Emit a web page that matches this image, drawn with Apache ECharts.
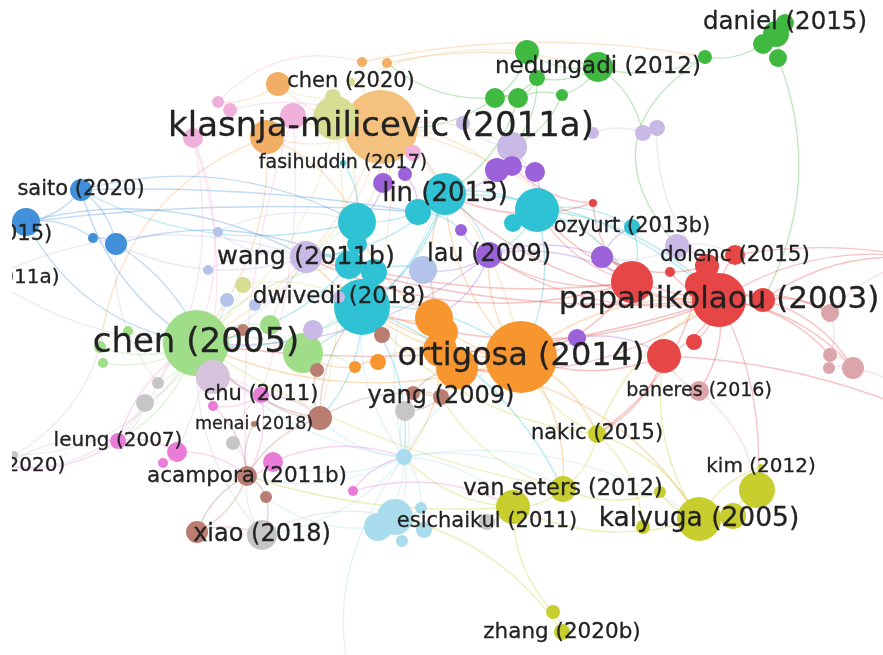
<!DOCTYPE html>
<html>
<head>
<meta charset="utf-8">
<title>Co-citation network</title>
<script src="https://cdn.jsdelivr.net/npm/echarts/dist/echarts.min.js"></script>
<style>
  html, body { margin: 0; padding: 0; background: #ffffff; overflow: hidden; }
  /* the map area begins after a narrow white margin on the left */
  #chart { width: 871px; height: 655px; margin-left: 12px; }
</style>
</head>
<body>
<div id="chart"></div>
<script>
// Network map: every node is [id, label, x, y, weight] in map units.
const red = [
  ['r1', 'papanikolaou (2003)', 719, 300, 27],
  ['r2', '', 632, 282, 21],
  ['r3', '', 707, 266, 12],
  ['r4', 'dolenc (2015)', 735, 255, 10],
  ['r5', '', 670, 272, 5],
  ['r6', '', 698, 285, 13],
  ['r7', '', 763, 300, 12],
  ['r8', '', 694, 342, 8],
  ['r9', '', 664, 356, 17],
  ['r10', '', 593, 203, 4]
];
const rosy = [
  ['q1', '', 830, 313, 9],
  ['q2', '', 830, 355, 7],
  ['q3', '', 829, 368, 6],
  ['q4', '', 853, 368, 11],
  ['q5', 'baneres (2016)', 699, 391, 10],
  ['q6', '', 930, 260, 4],
  ['q7', '', 935, 420, 4]
];
const green = [
  ['g1', 'daniel (2015)', 785, 23, 9],
  ['g2', '', 776, 34, 13],
  ['g3', '', 763, 44, 10],
  ['g4', '', 778, 58, 9],
  ['g5', '', 705, 57, 7],
  ['g6', 'nedungadi (2012)', 598, 67, 15],
  ['g7', '', 527, 52, 12],
  ['g8', '', 537, 78, 8],
  ['g9', '', 495, 98, 10],
  ['g10', '', 518, 98, 10],
  ['g11', '', 562, 95, 6]
];
const blue = [
  ['b1', 'saito (2020)', 81, 190, 11],
  ['b2', '', 26, 222, 14],
  ['b3', '', 93, 238, 5],
  ['b4', '', 116, 244, 11],
  ['b5', 'hwang (2015)', -21, 235, 4]
];
const steel = [
  ['s1', '', 218, 232, 5],
  ['s2', '', 208, 270, 5],
  ['s3', 'wang (2011a)', -10, 278, 4],
  ['s4', '', 227, 300, 7],
  ['s5', '', 255, 305, 6],
  ['s6', '', 423, 270, 14]
];
const cyan = [
  ['c1', 'lin (2013)', 445, 194, 21],
  ['c2', '', 357, 222, 19],
  ['c3', '', 418, 212, 13],
  ['c4', '', 537, 210, 22],
  ['c5', '', 513, 223, 9],
  ['c6', '', 349, 265, 14],
  ['c7', '', 374, 272, 13],
  ['c8', '', 362, 307, 28],
  ['c9', '', 357, 244, 10],
  ['c10', 'ozyurt (2013b)', 632, 227, 8],
  ['c11', 'fasihuddin (2017)', 343, 163, 3]
];
const purple = [
  ['p1', 'lau (2009)', 489, 255, 13],
  ['p2', '', 383, 183, 10],
  ['p3', '', 405, 174, 7],
  ['p4', '', 497, 170, 12],
  ['p5', '', 512, 166, 10],
  ['p6', '', 535, 172, 10],
  ['p7', '', 461, 230, 6],
  ['p8', '', 602, 257, 11],
  ['p9', '', 577, 338, 9]
];
const lavender = [
  ['v1', 'wang (2011b)', 306, 257, 16],
  ['v2', '', 512, 147, 15],
  ['v3', '', 463, 123, 7],
  ['v4', '', 593, 133, 6],
  ['v5', '', 643, 133, 8],
  ['v6', '', 657, 128, 8],
  ['v7', '', 677, 246, 12],
  ['v9', '', 313, 330, 10],
  ['v11', 'dwivedi (2018)', 339, 297, 6]
];
const mauve = [
  ['u1', '', 213, 377, 17]
];
const orange = [
  ['o1', 'ortigosa (2014)', 521, 357, 36],
  ['o2', '', 434, 318, 19],
  ['o3', '', 443, 332, 15],
  ['o4', '', 440, 350, 17],
  ['o5', '', 457, 368, 21],
  ['o6', '', 378, 362, 8],
  ['o7', '', 355, 367, 6]
];
const apricot = [
  ['a1', '', 278, 84, 12],
  ['a2', '', 267, 137, 17],
  ['a3', '', 362, 62, 5],
  ['a4', '', 387, 63, 5]
];
const peach = [
  ['k1', 'klasnja-milicevic (2011a)', 381, 127, 37]
];
const lime = [
  ['l1', 'chen (2020)', 351, 82, 4],
  ['l2', '', 333, 97, 8],
  ['l3', '', 335, 118, 22],
  ['l4', '', 243, 285, 8]
];
const lightGreen = [
  ['e1', 'chen (2005)', 196, 343, 33],
  ['e2', '', 303, 353, 20],
  ['e3', '', 270, 325, 10],
  ['e4', '', 100, 347, 6],
  ['e5', '', 128, 331, 5],
  ['e6', '', 103, 363, 5]
];
const brown = [
  ['w1', 'acampora (2011b)', 247, 476, 10],
  ['w2', 'menai (2018)', 254, 424, 3],
  ['w3', '', 320, 418, 12],
  ['w4', '', 317, 370, 7],
  ['w5', '', 243, 330, 6],
  ['w6', '', 382, 335, 8],
  ['w7', '', 266, 497, 6],
  ['w8', '', 197, 532, 11],
  ['w9', 'yang (2009)', 441, 397, 8],
  ['w10', '', 413, 393, 7]
];
const pink = [
  ['n1', 'chu (2011)', 261, 395, 8],
  ['n2', 'leung (2007)', 118, 441, 8],
  ['n3', '', 177, 452, 10],
  ['n4', '', 163, 463, 5],
  ['n5', '', 213, 406, 5],
  ['n6', '', 273, 462, 10],
  ['n7', '', 353, 491, 5]
];
const rose = [
  ['m1', '', 218, 102, 6],
  ['m2', '', 230, 110, 7],
  ['m3', '', 293, 116, 13],
  ['m4', '', 193, 138, 10],
  ['m5', '', 413, 153, 8]
];
const gray = [
  ['h1', 'xiao (2018)', 262, 535, 15],
  ['h2', '', 158, 383, 6],
  ['h3', '', 145, 403, 9],
  ['h4', '', 233, 443, 7],
  ['h5', '', 405, 411, 10],
  ['h6', 'esichaikul (2011)', 487, 522, 8],
  ['h7', 'zhao (2020)', 5, 466, 4],
  ['h8', '', 14, 455, 4]
];
const ice = [
  ['t1', '', 404, 457, 8],
  ['t2', '', 395, 517, 18],
  ['t3', '', 378, 527, 14],
  ['t4', '', 421, 508, 6],
  ['t5', '', 424, 530, 8],
  ['t6', '', 402, 541, 6],
  ['t7', '', 420, 800, 4]
];
const yellow = [
  ['y1', 'kalyuga (2005)', 699, 519, 22],
  ['y2', '', 733, 516, 13],
  ['y3', '', 757, 490, 18],
  ['y4', 'kim (2012)', 761, 467, 3],
  ['y5', '', 643, 527, 7],
  ['y6', '', 660, 492, 6],
  ['y7', 'van seters (2012)', 563, 489, 13],
  ['y8', '', 513, 507, 17],
  ['y9', 'nakic (2015)', 597, 434, 9],
  ['y10', '', 553, 612, 7],
  ['y11', 'zhang (2020b)', 562, 632, 8]
];

// Citation links: [source, target, optional bend]
const links = [
  ['g2','g1'],['g2','g3'],['g2','g4'],['g3','g5'],['g5','g6'],['g6','g7'],['g6','g8'],['g7','g8'],
  ['g8','g9'],['g8','g10'],['g10','g11'],['g9','g10'],['g6','g11'],['g7','g9'],
  ['g4','r7',0.23],['g5','v7',-0.58],['g9','k1'],['g10','c1'],['g11','v2'],['g6','v5'],['g8','v2'],['g9','a4'],
  ['a3','g5',0.1],['l1','g7',0.15],['m1','a3',0.3],['a4','g6',0.12],

  ['k1','a1'],['k1','a2'],['k1','l2'],['k1','c1'],['k1','c2'],['k1','p4'],['k1','v1'],['k1','o1'],
  ['k1','e1'],['k1','r2'],['k1','a3'],['k1','a4'],['k1','m3'],['k1','v2'],['k1','p2'],['k1','c8'],
  ['l3','e1'],['l3','c6'],['l3','w3',0.1],['l2','a1'],['l4','c8'],['l4','e1'],

  ['o1','o5'],['o1','o4'],['o1','o2'],['o1','c1'],['o1','p1'],['o1','r1'],['o1','y9'],['o1','e1'],
  ['o1','c8'],['o2','c8'],['o5','w9'],['o6','o4'],['o7','o6'],['o7','e2'],['o2','c2'],['o1','y7'],
  ['o4','t1'],['o3','c1'],['o5','y1',0.25],['o1','v1'],
  ['a2','e1'],['a1','m1'],['a2','c2'],['a2','e4',-0.3],

  ['c1','c3'],['c1','c2'],['c1','c4'],['c1','p1'],['c1','c8'],['c1','v1'],['c2','c6'],['c2','c9'],
  ['c4','c5'],['c4','c10'],['c4','r2'],['c8','c6'],['c8','c7'],['c8','e1'],['c8','o1'],['c8','t1'],
  ['c8','w3'],['c3','p7'],['c4','p1'],['c10','r2'],['c6','e1'],['c2','b1'],['c7','s6'],['c1','r1'],
  ['c8','y7'],['c4','r1'],['c9','v1'],['c1','e2'],['c4','o1'],['c11','c2'],

  ['p1','p7'],['p1','r2'],['p1','p8'],['p4','p5'],['p5','p6'],['p4','c1'],['p8','r2'],['p8','c10'],
  ['p9','r9'],['p9','o1'],['p2','c2'],['p3','c3'],['p6','c4'],['p1','s6'],['p1','o2'],['p1','e1'],

  ['v1','e1'],['v1','c6'],['v1','s1'],['v1','b4'],['v2','p4'],['v2','v3'],['v4','v5'],['v5','v6'],
  ['v7','r4'],['v7','p8'],['v9','e2'],['v11','c8'],['v2','c4'],['v6','r3',-0.2],
  ['u1','e1'],['u1','n1'],

  ['r1','r2'],['r1','r3'],['r1','r4'],['r1','r5'],['r1','r6'],['r1','r7'],['r1','r8'],['r1','r9'],
  ['r1','q1'],['r1','q2'],['r1','q4'],['r1','q5'],['r1','p1'],['r1','c1'],['r1','v1',0.1],['r1','e1',0.12],
  ['r1','c4'],['r2','o1'],['r2','p1'],['r2','c4'],['r2','r10'],['r10','p5'],['r10','c1'],['r6','y9'],
  ['r9','y9'],['r1','y3',0.15],['r4','v7'],['r7','q1'],['r1','o5'],['r2','v1'],['r3','p8'],['r9','o1'],
  ['r1','c8'],['r7','q4'],['r1','q6'],['r7','q6'],['r4','q6',0.1],['q4','q7'],['r9','q7',0.1],['r2','c6',0.1],
  ['q5','y3'],['q5','r9'],['q2','q4'],['q3','q4'],['q1','q2'],['q1','q6'],

  ['y9','y7'],['y9','y1'],['y9','y5'],['y9','r1'],['y9','o1'],['y1','y2'],['y2','y3'],['y1','y4'],
  ['y3','y4'],['y1','y6'],['y7','y8'],['y8','y10',-0.2],['y10','y11'],['y8','t1'],['y8','h6'],['y7','w9'],
  ['y1','y8'],['y6','y7'],['y8','w1',0.1],['y7','e1',0.1],['y1','r9'],['y9','c8'],['y11','t2',-0.2],

  ['t1','t2'],['t1','t3'],['t1','t4'],['t1','c8'],['t1','o1'],['t1','w1'],['t1','e1'],['t1','y8'],
  ['t1','w3'],['t1','h5'],['t1','t7',-0.4],['t2','t6'],['t2','t5'],['t1','y1'],['t1','n6'],['t1','c1'],
  ['t1','y7'],['t1','h1'],['t3','w7'],

  ['e1','e2'],['e1','e3'],['e1','e4'],['e1','e5'],['e1','e6'],['e1','c6'],['e2','o7'],['e2','w4'],
  ['e1','n2'],['e1','h3'],['e1','h2'],['e3','c2'],['e2','c8'],

  ['b1','b2'],['b1','b4'],['b1','c2'],['b2','c3',0.05],['b2','v1'],['b2','b3'],['b3','b4'],['b4','c6'],
  ['b5','b2'],['b4','u1'],['b1','e1',-0.2],['b1','c3',0.05],['b2','e1',-0.25],
  ['s3','e1',-0.15],['s3','v1'],['s1','c2'],['s2','v1'],['s4','e1'],['s5','c8'],['s6','o2'],

  ['n1','n5'],['n1','w3'],['n1','e1'],['n2','n3'],['n3','n4'],['n3','w1'],['n2','h7',0.2],['n6','w1'],
  ['n6','t1'],['n7','y8'],['n7','t1'],['n1','w1'],['n2','e1'],['n5','w1'],
  ['m4','n2',0.25],['m3','n1',0.1],['m4','e1'],['m2','k1'],['m4','n3',0.2],['m3','w1',-0.1],['m5','c1'],

  ['w1','w2'],['w1','w7'],['w1','w8'],['w1','w3'],['w3','w4'],['w3','w9'],['w3','c8'],['w8','h1'],
  ['w9','h5'],['w4','e2'],['w5','e1'],['w6','c8'],['w3','n1'],['w10','w9'],['w10','o5'],['w10','h5'],
  ['w7','h1'],['w3','e1'],['w8','w1'],

  ['h1','w1'],['h1','e1'],['h1','t2'],['h2','e1'],['h3','n2'],['h4','w1'],['h4','n1'],['h5','t1'],
  ['h6','y8'],['h7','n2'],['h3','h7',0.3],['h2','b4'],['h8','e4',-0.2],['h8','e1',-0.3]
];

const palette = {
  red: '#e64646', rosy: '#dca5ab', green: '#40b940', blue: '#4290da', steel: '#b4c3ea',
  cyan: '#2ec2d4', purple: '#9c62da', lavender: '#c8b9e6', mauve: '#d5c4dc', orange: '#f7952f',
  apricot: '#f3ae66', peach: '#f4c27e', lime: '#d6de93', lightGreen: '#9fdd88', brown: '#b97d71',
  pink: '#ea7bd8', rose: '#efb0dc', gray: '#c6c6c6', ice: '#a9dcec', yellow: '#c8ce2e'
};

const clusters = { red, rosy, green, blue, steel, cyan, purple, lavender, mauve, orange,
  apricot, peach, lime, lightGreen, brown, pink, rose, gray, ice, yellow };

// label font sizes (px)
const labelFont = {
  'klasnja-milicevic (2011a)': 34, 'ortigosa (2014)': 32, 'papanikolaou (2003)': 31,
  'chen (2005)': 34, 'lin (2013)': 26, 'wang (2011b)': 25.5, 'dwivedi (2018)': 23,
  'lau (2009)': 24, 'saito (2020)': 21, 'yang (2009)': 24, 'chu (2011)': 21,
  'menai (2018)': 17.5, 'leung (2007)': 20, 'acampora (2011b)': 21.5, 'xiao (2018)': 24,
  'esichaikul (2011)': 21, 'van seters (2012)': 22.5, 'kalyuga (2005)': 26.5, 'kim (2012)': 20,
  'nakic (2015)': 21, 'baneres (2016)': 19, 'zhang (2020b)': 21.5, 'ozyurt (2013b)': 21,
  'dolenc (2015)': 21.5, 'nedungadi (2012)': 23, 'daniel (2015)': 24.5, 'chen (2020)': 21,
  'fasihuddin (2017)': 19, 'hwang (2015)': 21, 'wang (2011a)': 20, 'zhao (2020)': 20
};

const colorOf = {};
const allNodes = [];
Object.keys(clusters).forEach(function (c) {
  clusters[c].forEach(function (n) {
    colorOf[n[0]] = palette[c];
    allNodes.push({ id: n[0], label: n[1], x: n[2], y: n[3], w: n[4], color: palette[c] });
  });
});
// big circles underneath, small ones on top
allNodes.sort(function (a, b) { return b.w - a.w; });

const graphNodes = allNodes.map(function (n) {
  return {
    name: n.id,
    value: [n.x, n.y],
    symbolSize: n.w * 2,
    itemStyle: { color: n.color }
  };
});

const graphLinks = links.map(function (l) {
  return {
    source: l[0],
    target: l[1],
    lineStyle: {
      color: colorOf[l[0]],
      opacity: 0.32,
      width: 1.4,
      curveness: l.length > 2 ? l[2] : 0.2
    }
  };
});

const labelData = allNodes.filter(function (n) { return n.label; }).map(function (n) {
  return {
    value: [n.x, n.y],
    label: { formatter: n.label, fontSize: labelFont[n.label] || 20 }
  };
});

const chart = echarts.init(document.getElementById('chart'), null, { renderer: 'canvas' });
chart.setOption({
  animation: false,
  backgroundColor: '#ffffff',
  grid: { left: 0, right: 0, top: 0, bottom: 0 },
  // map units: x from 12 (left edge of the canvas) to 883, y from 0 to 655
  xAxis: { type: 'value', min: 12, max: 883, show: false },
  yAxis: { type: 'value', min: 0, max: 655, inverse: true, show: false },
  series: [
    {
      type: 'graph',
      coordinateSystem: 'cartesian2d',
      symbol: 'circle',
      data: graphNodes,
      links: graphLinks,
      label: { show: false },
      emphasis: { disabled: true },
      z: 2
    },
    {
      type: 'scatter',
      clip: false,
      symbolSize: 1,
      itemStyle: { color: 'rgba(0,0,0,0)' },
      data: labelData,
      label: {
        show: true,
        position: 'inside',
        color: '#222222',
        opacity: 1,
        textBorderColor: '#2a2a2a',
        textBorderWidth: 0.3,
        fontFamily: 'DejaVu Sans',
        fontWeight: 'normal'
      },
      labelLayout: { hideOverlap: false },
      emphasis: { disabled: true },
      silent: true,
      z: 5
    }
  ]
});
</script>
</body>
</html>
